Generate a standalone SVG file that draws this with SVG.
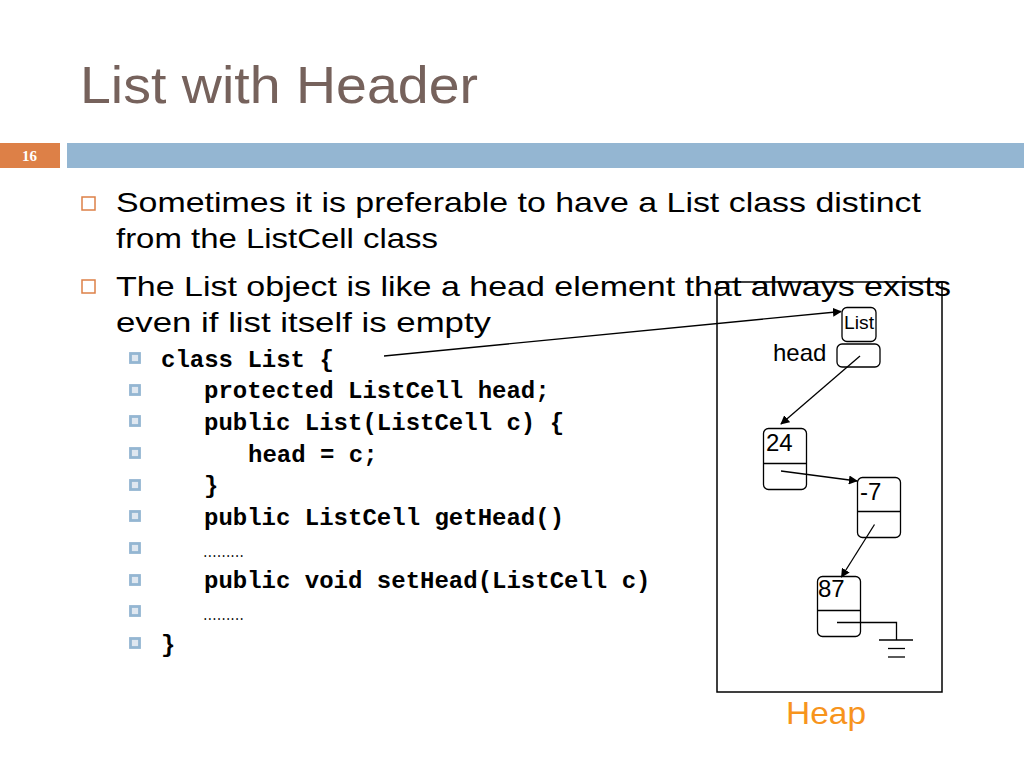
<svg xmlns="http://www.w3.org/2000/svg" width="1024" height="768" viewBox="0 0 1024 768">
<style>
.title{font-family:"Liberation Sans",Arial,sans-serif;font-size:52px;fill:#76625C}
.body{font-family:"Liberation Sans",Arial,sans-serif;font-size:28px;fill:#000}
.code{font-family:"Liberation Mono","Courier New",monospace;font-size:24px;font-weight:bold;fill:#000}
.dots{font-family:"Liberation Serif","Times New Roman",serif;font-size:16px;fill:#000}
.lbl{font-family:"Liberation Sans",Arial,sans-serif;fill:#000}
.b1{fill:none;stroke:#DD8047;stroke-width:1.5}
.b2{fill:#dfe7f0;stroke:#94B6D2;stroke-width:2.8}
.cell{fill:#fff;stroke:#000;stroke-width:1.3}
.edge{fill:none;stroke:#000;stroke-width:1.3}
</style>
<defs>
<marker id="ah" viewBox="0 0 10 10" refX="9" refY="5" markerWidth="9" markerHeight="9" markerUnits="userSpaceOnUse" orient="auto">
<path d="M0,0 L10,5 L0,10 z" fill="#000"/>
</marker>
</defs>
<rect width="1024" height="768" fill="#fff"/>
<text class="title" x="80" y="103" textLength="398" lengthAdjust="spacingAndGlyphs">List with Header</text>
<rect x="0" y="143" width="60" height="25" fill="#DD8047"/>
<text x="22" y="161" font-family="Liberation Serif,Times New Roman,serif" font-size="15" font-weight="bold" fill="#fff">16</text>
<rect x="67" y="143" width="957" height="25" fill="#94B6D2"/>

<g id="bullets">
<rect class="b1" x="82" y="197" width="13" height="13"/>
<text class="body" x="116" y="212" textLength="805" lengthAdjust="spacingAndGlyphs">Sometimes it is preferable to have a List class distinct</text>
<text class="body" x="116" y="248" textLength="322" lengthAdjust="spacingAndGlyphs">from the ListCell class</text>
<rect class="b1" x="82" y="280" width="13" height="13"/>
<text class="body" x="116" y="296" textLength="835" lengthAdjust="spacingAndGlyphs">The List object is like a head element that always exists</text>
<text class="body" x="116" y="332" textLength="375" lengthAdjust="spacingAndGlyphs">even if list itself is empty</text>
</g>

<g id="code">
<rect class="b2" x="130.5" y="353.5" width="9" height="9"/>
<text class="code" x="161" y="367">class List {</text>
<rect class="b2" x="130.5" y="385.5" width="9" height="9"/>
<text class="code" x="204" y="398">protected ListCell head;</text>
<rect class="b2" x="130.5" y="416.5" width="9" height="9"/>
<text class="code" x="204" y="430">public List(ListCell c) {</text>
<rect class="b2" x="130.5" y="448.5" width="9" height="9"/>
<text class="code" x="248" y="462">head = c;</text>
<rect class="b2" x="130.5" y="480.5" width="9" height="9"/>
<text class="code" x="204" y="493">}</text>
<rect class="b2" x="130.5" y="511.5" width="9" height="9"/>
<text class="code" x="204" y="525">public ListCell getHead()</text>
<rect class="b2" x="130.5" y="543.5" width="9" height="9"/>
<text class="dots" x="203" y="557" textLength="41" lengthAdjust="spacingAndGlyphs">………</text>
<rect class="b2" x="130.5" y="575.5" width="9" height="9"/>
<text class="code" x="204" y="588">public void setHead(ListCell c)</text>
<rect class="b2" x="130.5" y="606.5" width="9" height="9"/>
<text class="dots" x="203" y="620" textLength="41" lengthAdjust="spacingAndGlyphs">………</text>
<rect class="b2" x="130.5" y="638.5" width="9" height="9"/>
<text class="code" x="161" y="652">}</text>
</g>

<g id="heap">
<rect x="717" y="282" width="225" height="410" fill="none" stroke="#000" stroke-width="1.5"/>
<text x="786" y="724" font-family="Liberation Sans,Arial,sans-serif" font-size="32" fill="#F7941D" textLength="80" lengthAdjust="spacingAndGlyphs">Heap</text>
</g>

<g id="node-list">
<rect class="cell" x="842" y="307.5" width="34" height="34" rx="5"/>
<text class="lbl" x="844" y="329" font-size="18" textLength="30" lengthAdjust="spacingAndGlyphs">List</text>
</g>
<g id="node-head">
<text class="lbl" x="773" y="361" font-size="24">head</text>
<rect class="cell" x="837" y="344" width="43" height="23" rx="5"/>
</g>
<g id="node-24">
<rect class="cell" x="763.5" y="428.5" width="43" height="61" rx="5"/>
<line class="edge" x1="763.5" y1="463.5" x2="806.5" y2="463.5"/>
<text class="lbl" x="766" y="451" font-size="24">24</text>
</g>
<g id="node-m7">
<rect class="cell" x="857.5" y="477.5" width="43" height="60" rx="5"/>
<line class="edge" x1="857.5" y1="511.5" x2="900.5" y2="511.5"/>
<text class="lbl" x="860" y="500" font-size="24">-7</text>
</g>
<g id="node-87">
<rect class="cell" x="817.5" y="576.5" width="43" height="60" rx="5"/>
<line class="edge" x1="817.5" y1="610.5" x2="860.5" y2="610.5"/>
<text class="lbl" x="818" y="597" font-size="24">87</text>
</g>
<g id="ground">
<line class="edge" x1="879" y1="640" x2="913" y2="640"/>
<line class="edge" x1="888" y1="648.5" x2="905" y2="648.5"/>
<line class="edge" x1="888" y1="657" x2="905" y2="657"/>
</g>

<g id="connectors">
<line class="edge" x1="384" y1="356" x2="841" y2="311.5" marker-end="url(#ah)"/>
<line class="edge" x1="860" y1="356" x2="781" y2="424" marker-end="url(#ah)"/>
<line class="edge" x1="781" y1="471" x2="857" y2="481" marker-end="url(#ah)"/>
<line class="edge" x1="874.5" y1="524.5" x2="841.5" y2="577" marker-end="url(#ah)"/>
<polyline class="edge" points="837,622.5 896.5,622.5 896.5,640"/>
</g>
</svg>
